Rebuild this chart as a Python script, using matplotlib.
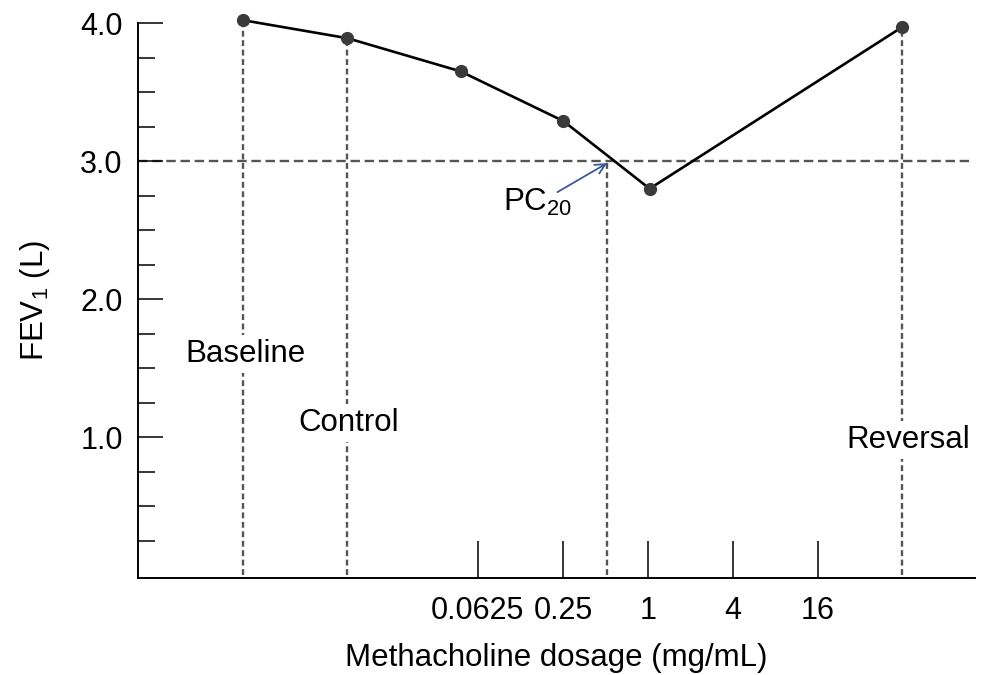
import matplotlib
matplotlib.use("Agg")
import matplotlib.pyplot as plt
import numpy as np

# positions on a log2(dose) axis; Baseline/Control/Reversal sit off the dose scale
point_labels = ["Baseline", "Control", "d1", "0.25", "1", "Reversal"]
point_x = [-9.52, -7.07, -4.41, -1.99, 0.04, 5.98]
point_fev = [4.02, 3.89, 3.65, 3.29, 2.80, 3.97]

dose_ticks = [0.0625, 0.25, 1, 4, 16]
dose_tick_labels = ["0.0625", "0.25", "1", "4", "16"]

pc20_x = -0.96
pc20_fev = 3.0

plt.rcParams["font.family"] = ["Liberation Sans", "DejaVu Sans"]
plt.rcParams["mathtext.default"] = "regular"

fig = plt.figure(figsize=(9.84, 6.75), dpi=100)
ax = fig.add_axes([0.1402, 0.1437, 0.8508, 0.8222])

dash_col = "#555555"
# horizontal reference at 3.0
ax.axhline(pc20_fev, xmax=0.996, color=dash_col, lw=1.7, dashes=(4, 2), zorder=1)
# verticals for Baseline, Control, Reversal
for i in (0, 1, 5):
    ax.plot([point_x[i], point_x[i]], [0, point_fev[i]], color=dash_col, lw=1.7,
            dashes=(2.5, 1.5), zorder=1)
ax.plot([pc20_x, pc20_x], [0, pc20_fev], color=dash_col, lw=1.7, dashes=(2.5, 1.5), zorder=1)

ax.plot(point_x, point_fev, color="black", lw=1.9, zorder=3, clip_on=False)
ax.plot(point_x, point_fev, "o", color="#3a3a3a", ms=8.5, zorder=4, clip_on=False)

box = dict(facecolor="white", edgecolor="none", pad=3)
ax.text(-9.47, 1.60, "Baseline", ha="center", va="center", fontsize=22.5, bbox=box, zorder=5)
ax.text(-7.05, 1.10, "Control", ha="center", va="center", fontsize=22.5, bbox=box, zorder=5)
ax.text(6.12, 0.98, "Reversal", ha="center", va="center", fontsize=22.5, bbox=box, zorder=5)

ax.text(-2.6, 2.70, "PC$_{20}$", ha="center", va="center", fontsize=22.5, zorder=5)
ax.annotate("", xy=(pc20_x, 2.985), xytext=(-2.13, 2.775),
            arrowprops=dict(arrowstyle="->", color="#3b5998", lw=1.3,
                            mutation_scale=18, shrinkA=0, shrinkB=0), zorder=6)

ax.set_xlim(-12, 7.7)
ax.set_ylim(-0.02, 4.0)

ax.set_xticks(np.log2(dose_ticks))
ax.set_xticklabels(dose_tick_labels)
ax.set_yticks([1, 2, 3, 4])
ax.set_yticklabels(["1.0", "2.0", "3.0", "4.0"])
ax.set_yticks(np.arange(0.25, 4.0, 0.25), minor=True)

ax.tick_params(axis="x", direction="in", length=27, width=1.1, pad=13, labelsize=22)
ax.tick_params(axis="y", which="major", direction="in", length=18, width=1.1, pad=11, labelsize=22)
ax.tick_params(axis="y", which="minor", direction="in", length=12, width=1.1)

for side in ("top", "right"):
    ax.spines[side].set_visible(False)
for side in ("left", "bottom"):
    ax.spines[side].set_linewidth(1.4)

ax.set_xlabel("Methacholine dosage (mg/mL)", fontsize=22.5, labelpad=12)
ax.set_ylabel("FEV$_1$ (L)", fontsize=22.5, labelpad=20)

fig.savefig("out.png", dpi=100)
